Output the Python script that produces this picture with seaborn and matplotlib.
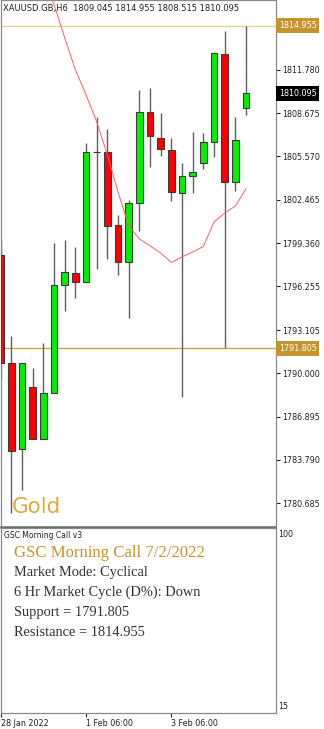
import matplotlib
matplotlib.use("Agg")
import matplotlib.pyplot as plt
import seaborn as sns
import numpy as np
import pandas as pd
from matplotlib.patches import Rectangle

# ---------------- data ----------------
opens  = [1798.50, 1790.73, 1784.55, 1789.03, 1785.30, 1788.58, 1796.35, 1797.18, 1796.54, 1805.90,
          1805.87, 1800.65, 1798.02, 1802.21, 1808.74, 1806.87, 1806.03, 1802.93, 1804.19, 1805.08,
          1806.63, 1812.90, 1803.72, 1809.045]
highs  = [1799.50, 1792.69, 1790.73, 1790.37, 1792.21, 1799.34, 1799.58, 1799.10, 1806.51, 1808.42,
          1807.54, 1801.37, 1802.45, 1810.34, 1810.46, 1808.67, 1806.92, 1805.08, 1807.35, 1807.23,
          1813.05, 1814.58, 1808.42, 1814.955]
lows   = [1789.55, 1779.99, 1781.63, 1785.30, 1785.30, 1788.58, 1794.50, 1795.39, 1796.54, 1797.47,
          1798.21, 1797.06, 1794.00, 1800.24, 1804.84, 1805.60, 1802.40, 1788.33, 1802.93, 1804.67,
          1805.55, 1791.805, 1803.11, 1808.515]
closes = [1790.73, 1784.45, 1790.73, 1785.30, 1788.58, 1796.35, 1797.30, 1796.58, 1805.87, 1805.92,
          1800.60, 1797.98, 1802.21, 1808.74, 1807.06, 1806.11, 1803.00, 1804.19, 1804.43, 1806.59,
          1812.97, 1803.76, 1806.73, 1810.095]
ma_values = [np.nan, np.nan, np.nan, np.nan, 1818.59, 1816.44, 1814.07, 1811.78, 1809.98, 1808.04,
             1805.68, 1803.02, 1800.58, 1799.65, 1799.15, 1798.64, 1797.96, 1798.36, 1798.72, 1799.11,
             1800.87, 1801.51, 1802.02, 1803.24]
price_ticks = [1811.780, 1808.675, 1805.570, 1802.465, 1799.360, 1796.255, 1793.105,
               1790.000, 1786.895, 1783.790, 1780.685]
x_tick_pos = [0, 8, 16]
x_tick_labels = ["28 Jan 2022", "1 Feb 06:00", "3 Feb 06:00"]
resistance = 1814.955
support = 1791.805
last_price = 1810.095
header = "XAUUSD.GB,H6  1809.045 1814.955 1808.515 1810.095"
panel_lines = ["Market Mode: Cyclical", "6 Hr Market Cycle (D%): Down",
               "Support = 1791.805", "Resistance = 1814.955"]

# ---------------- figure ----------------
sns.set_style("white")
plt.rcParams['font.family'] = ['DejaVu Sans']
W, H = 324, 729
fig = plt.figure(figsize=(W / 100, H / 100), dpi=100)
fig.patch.set_facecolor("white")

def box(x0, y0, x1, y1):
    return [x0 / W, 1 - y1 / H, (x1 - x0) / W, (y1 - y0) / H]

ax = fig.add_axes(box(0.5, 0, 275.5, 526.7))
ax2 = fig.add_axes(box(0.5, 528.3, 275.5, 712.5))

n = len(opens)
idx = np.arange(n)
df = pd.DataFrame(dict(i=idx, o=opens, h=highs, l=lows, c=closes, ma=ma_values))

# wicks
ax.vlines(df.i, df.l, df.h, color="#606060", lw=1.0, zorder=2)
# bodies
bw = 0.63
for i, o, c in zip(df.i, df.o, df.c):
    col = "#00f000" if c >= o else "#ff0000"
    lo, hi = min(o, c), max(o, c)
    ax.add_patch(Rectangle((i - bw / 2, lo), bw, max(hi - lo, 0.01), facecolor=col,
                           edgecolor="#3a3a3a", lw=0.8, zorder=3))

# moving average
sns.lineplot(data=df, x="i", y="ma", ax=ax, color="#ff6060", lw=0.7, zorder=4, legend=False)

# support / resistance lines
ax.axhline(resistance, color="#e6d3a4", lw=1.0, zorder=1)
ax.axhline(support, color="#d4a93c", lw=1.0, zorder=1)

ax.set_xlim(-0.03, 25.77)
ax.set_ylim(1779.00, 1816.80)
ax.set_xlabel("")
ax.set_ylabel("")
ax.set_xticks([])
ax.yaxis.tick_right()
ax.set_yticks(price_ticks)
ax.set_yticklabels([f"{v:.3f}" for v in price_ticks])
ax.tick_params(axis="y", direction="out", length=3, width=0.8, pad=2,
               labelsize=5.8, colors="#222222", left=False, right=True)
for s in ax.spines.values():
    s.set_color("#8a8a8a")
    s.set_linewidth(0.9)
ax.spines["bottom"].set_linewidth(1.8)
ax.spines["bottom"].set_color("#6a6a6a")

# price label boxes
def price_box(val, fc):
    ax.text(1.012, val, f"{val:.3f}", transform=ax.get_yaxis_transform(), ha="left",
            va="center", fontsize=5.8, color="white", zorder=10, clip_on=False,
            bbox=dict(boxstyle="square,pad=0.35", fc=fc, ec="none"))

price_box(resistance, "#c4952e")
price_box(support, "#c4952e")
price_box(last_price, "#000000")

ax.text(0.01, 0.984, header, transform=ax.transAxes, ha="left", va="center",
        fontsize=6.05, color="#222222", zorder=6)
ax.text(0.04, 0.026, "Gold", transform=ax.transAxes, ha="left", va="baseline",
        fontsize=15.5, color="#e2a83a", zorder=6)

# ---------------- indicator panel ----------------
ax2.set_xlim(-0.03, 25.77)
ax2.set_ylim(15, 100)
ax2.yaxis.tick_right()
ax2.set_yticks([])
ax2.set_xticks(x_tick_pos)
ax2.set_xticklabels(x_tick_labels, ha="left")
ax2.tick_params(axis="x", direction="out", length=3, width=0.8, pad=1.5,
                labelsize=5.8, colors="#222222", bottom=True)
for s in ax2.spines.values():
    s.set_color("#8a8a8a")
    s.set_linewidth(0.9)
ax2.text(1.01, 0.965, "100", transform=ax2.transAxes, ha="left", va="center",
         fontsize=5.8, color="#222222", clip_on=False)
ax2.text(1.01, 0.035, "15", transform=ax2.transAxes, ha="left", va="center",
         fontsize=5.8, color="#222222", clip_on=False)

ax2.text(3 / 275, 1 - 7 / 184, "GSC Morning Call v3", transform=ax2.transAxes,
         ha="left", va="center", fontsize=5.5, color="#222222")
ax2.text(13 / 275, 1 - 25 / 184, "GSC Morning Call 7/2/2022", transform=ax2.transAxes,
         ha="left", va="center", fontsize=12.1, color="#c4952e", family=["Liberation Serif"])
for k, line in enumerate(panel_lines):
    ax2.text(13 / 275, 1 - (44 + 20 * k) / 184, line, transform=ax2.transAxes,
             ha="left", va="center", fontsize=10.4, color="#333333", family=["Liberation Serif"])

fig.savefig("out.png", dpi=100, facecolor="white")
